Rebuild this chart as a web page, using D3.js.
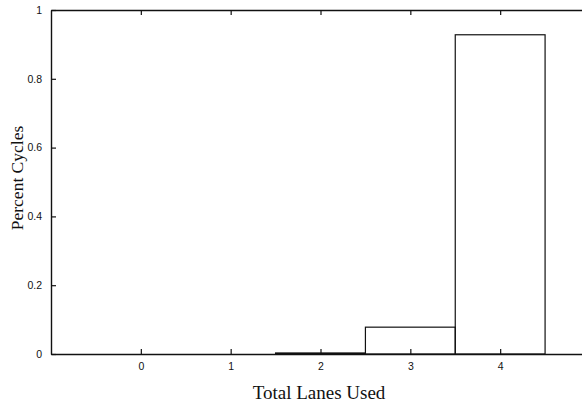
<!DOCTYPE html>
<html>
<head>
<meta charset="utf-8">
<script src="https://cdn.jsdelivr.net/npm/d3@7"></script>
<style>
  body { margin: 0; background: #fff; }
  svg { display: block; }
</style>
</head>
<body>
<div id="chart"></div>
<script>
// chart data
const lanes = [0, 1, 2, 3, 4];
const percentCycles = [0, 0, 0.003, 0.078, 0.928];
const yTicks = [0, 0.2, 0.4, 0.6, 0.8, 1];
const yTickLabels = ['0', '0.2', '0.4', '0.6', '0.8', '1'];

// dimensions
const width = 582;
const height = 407;
const margin = {top: 10, right: -8, bottom: 53, left: 51};
const plotWidth = width - margin.left - margin.right;
const plotHeight = height - margin.top - margin.bottom;

const svg = d3.select('#chart')
    .append('svg')
    .attr('width', width)
    .attr('height', height);

const g = svg.append('g')
    .attr('transform', 'translate(' + margin.left + ',' + margin.top + ')');

const x = d3.scaleLinear().domain([-1, 5]).range([0, plotWidth]);
const y = d3.scaleLinear().domain([0, 1]).range([plotHeight, 0]);

// bars (histogram style, width 1)
g.selectAll('.bar')
    .data(lanes)
    .enter()
    .append('rect')
    .attr('class', 'bar')
    .attr('x', (d) => x(d - 0.5))
    .attr('y', (d, i) => y(percentCycles[i]))
    .attr('width', (d) => x(d + 0.5) - x(d - 0.5))
    .attr('height', (d, i) => y(0) - y(percentCycles[i]))
    .attr('fill', 'none')
    .attr('stroke', '#111')
    .attr('stroke-width', 1.2);

// axes with inward ticks
const axisFont = '"Liberation Sans", Arial, sans-serif';

const bottomAxis = g.append('g')
    .attr('transform', 'translate(0,' + plotHeight + ')')
    .call(d3.axisBottom(x).tickValues(lanes).tickSizeInner(-5).tickSizeOuter(0).tickPadding(9)
        .tickFormat(d3.format('d')));

const topAxis = g.append('g')
    .call(d3.axisTop(x).tickValues(lanes).tickSizeInner(-5).tickSizeOuter(0).tickFormat(''));

const leftAxis = g.append('g')
    .call(d3.axisLeft(y).tickValues(yTicks).tickSizeInner(-5).tickSizeOuter(0).tickPadding(9)
        .tickFormat((d, i) => yTickLabels[i]));

const rightAxis = g.append('g')
    .attr('transform', 'translate(' + plotWidth + ',0)')
    .call(d3.axisRight(y).tickValues(yTicks).tickSizeInner(-5).tickSizeOuter(0).tickFormat(''));

[bottomAxis, topAxis, leftAxis, rightAxis].forEach(function(a) {
    a.select('.domain').attr('stroke', '#111').attr('stroke-width', 1.4);
    a.selectAll('.tick line').attr('stroke', '#111').attr('stroke-width', 1.2);
    a.selectAll('.tick text')
        .attr('font-family', axisFont)
        .attr('font-size', 10.5)
        .attr('fill', '#111');
});

// axis titles
svg.append('text')
    .attr('x', 319)
    .attr('y', 399)
    .attr('text-anchor', 'middle')
    .attr('font-family', '"Liberation Serif", "Times New Roman", serif')
    .attr('font-size', 19)
    .attr('fill', '#111')
    .text('Total Lanes Used');

svg.append('text')
    .attr('transform', 'translate(23,178) rotate(-90)')
    .attr('text-anchor', 'middle')
    .attr('font-family', '"Liberation Serif", "Times New Roman", serif')
    .attr('font-size', 17.5)
    .attr('fill', '#111')
    .text('Percent Cycles');
</script>
</body>
</html>
